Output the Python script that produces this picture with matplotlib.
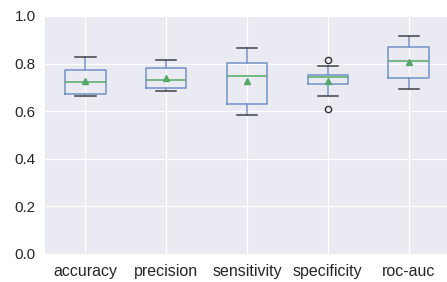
import matplotlib
matplotlib.use('Agg')
import matplotlib.pyplot as plt

metrics = ['accuracy', 'precision', 'sensitivity', 'specificity', 'roc-auc']
whislo = [0.665, 0.686, 0.584, 0.665, 0.692]
q1 = [0.671, 0.696, 0.632, 0.714, 0.741]
med = [0.724, 0.730, 0.746, 0.742, 0.812]
q3 = [0.773, 0.780, 0.801, 0.751, 0.870]
whishi = [0.826, 0.814, 0.866, 0.789, 0.916]
means = [0.728, 0.739, 0.728, 0.728, 0.807]
fliers = [[], [], [], [0.815, 0.608], []]

stats = []
for i, name in enumerate(metrics):
    stats.append(dict(label=name, whislo=whislo[i], q1=q1[i], med=med[i],
                      q3=q3[i], whishi=whishi[i], mean=means[i], fliers=fliers[i]))

plt.rcParams['font.family'] = ['Liberation Sans', 'DejaVu Sans']

fig = plt.figure(figsize=(4.47, 2.82), dpi=100)
ax = fig.add_axes([0.1007, 0.0993, 0.904, 0.844])
ax.set_facecolor('#EAEAF2')
for s in ax.spines.values():
    s.set_visible(False)
ax.grid(True, color='white', linewidth=0.9)
ax.set_axisbelow(True)

blue = '#7393C6'
ax.bxp(stats, showmeans=True, widths=0.5,
       boxprops=dict(color=blue, linewidth=1.1),
       whiskerprops=dict(color=blue, linewidth=1.1),
       capprops=dict(color='#444444', linewidth=1.1),
       medianprops=dict(color='#55A868', linewidth=1.1),
       meanprops=dict(marker='^', markerfacecolor='#55A868', markeredgecolor='#55A868', markersize=5),
       flierprops=dict(marker='o', markerfacecolor='none', markeredgecolor='#333333', markersize=4.5))

ax.set_xlim(0.5, 5.5)
ax.set_ylim(0, 1.0)
ax.set_yticks([0.0, 0.2, 0.4, 0.6, 0.8, 1.0])
ax.tick_params(axis='both', length=0, colors='#262626')
ax.tick_params(axis='x', labelsize=11.5, pad=7)
ax.tick_params(axis='y', labelsize=11, pad=6.5)

fig.savefig('out.png', dpi=100)
